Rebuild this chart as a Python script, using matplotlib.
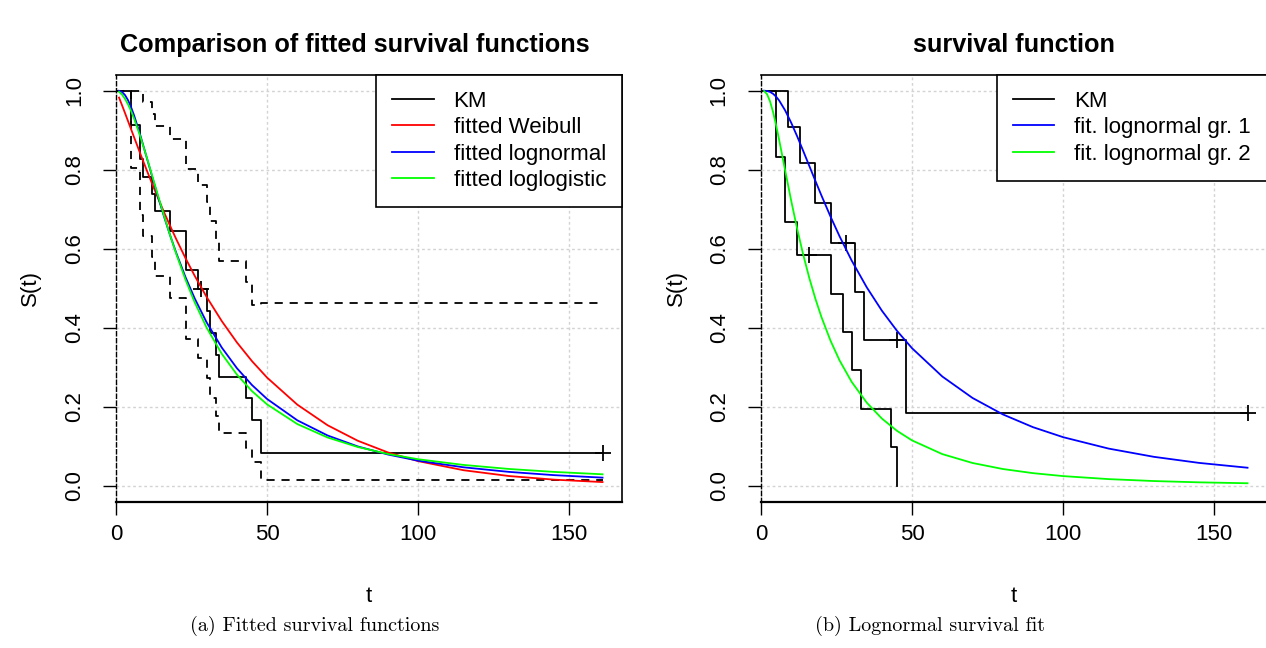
import numpy as np
import matplotlib
matplotlib.use("Agg")
import matplotlib.pyplot as plt

plt.rcParams['font.family'] = ['Liberation Sans', 'DejaVu Sans']

# ---- left panel: Kaplan-Meier (all patients) with log-type CI ----
km_time = [0, 5, 8, 9, 12, 13, 18, 23, 27, 30, 31, 33, 34, 43, 45, 48, 161]
km_surv = [1.0, 0.9130, 0.8261, 0.7826, 0.7391, 0.6957, 0.6460, 0.5466, 0.4969,
           0.4417, 0.3865, 0.3313, 0.2761, 0.2208, 0.1656, 0.0828, 0.0828]
km_lower = [1.0, 0.8049, 0.6848, 0.6309, 0.5798, 0.5309, 0.4753, 0.3721, 0.3240,
            0.2717, 0.2225, 0.1765, 0.1338, 0.0947, 0.0598, 0.0148, 0.0148]
km_upper = [1.0, 1.0, 0.9965, 0.9708, 0.9422, 0.9116, 0.8780, 0.8030, 0.7620,
            0.7181, 0.6713, 0.6217, 0.5695, 0.5148, 0.4584, 0.4622, 0.4622]
# censoring marks that show in the picture
km_cens_time = [28, 161]
km_cens_surv = [0.4969, 0.0828]

fit_time = [1, 2, 3, 4, 5, 6, 8, 10, 12, 14, 16, 18, 20, 23, 26, 30, 35, 40, 45,
            50, 60, 70, 80, 90, 100, 115, 130, 145, 161]
weibull_surv = [0.9826, 0.9631, 0.9430, 0.9226, 0.9022, 0.8818, 0.8414, 0.8020,
                0.7636, 0.7265, 0.6906, 0.6562, 0.6231, 0.5760, 0.5319, 0.4777,
                0.4167, 0.3628, 0.3153, 0.2736, 0.2052, 0.1531, 0.1138, 0.0842,
                0.0622, 0.0392, 0.0245, 0.0153, 0.0092]
lognormal_surv = [0.9998, 0.9968, 0.9888, 0.9757, 0.9581, 0.9371, 0.8884, 0.8353,
                  0.7815, 0.7290, 0.6789, 0.6318, 0.5879, 0.5279, 0.4748, 0.4134,
                  0.3497, 0.2976, 0.2548, 0.2195, 0.1655, 0.1272, 0.0994, 0.0789,
                  0.0633, 0.0466, 0.0350, 0.0267, 0.0204]
loglogistic_surv = [0.9972, 0.9901, 0.9792, 0.9652, 0.9483, 0.9291, 0.8850, 0.8358,
                    0.7841, 0.7319, 0.6808, 0.6317, 0.5854, 0.5215, 0.4649, 0.4000,
                    0.3339, 0.2814, 0.2394, 0.2058, 0.1561, 0.1221, 0.0980, 0.0803,
                    0.0670, 0.0526, 0.0424, 0.0349, 0.0289]

# ---- right panel: KM by group with lognormal fits ----
g1_time = [0, 9, 13, 18, 23, 31, 34, 48, 161]
g1_surv = [1.0, 0.9091, 0.8182, 0.7159, 0.6136, 0.4909, 0.3682, 0.1841, 0.1841]
g1_cens_time = [28, 45, 161]
g1_cens_surv = [0.6136, 0.3682, 0.1841]
g2_time = [0, 5, 8, 12, 23, 27, 30, 33, 43, 45]
g2_surv = [1.0, 0.8333, 0.6667, 0.5833, 0.4861, 0.3889, 0.2917, 0.1944, 0.0972, 0.0]
g2_cens_time = [16]
g2_cens_surv = [0.5833]

g1_fit_surv = [1.0000, 0.9993, 0.9969, 0.9921, 0.9849, 0.9753, 0.9500, 0.9188,
               0.8839, 0.8469, 0.8092, 0.7716, 0.7347, 0.6814, 0.6313, 0.5700,
               0.5021, 0.4431, 0.3920, 0.3479, 0.2764, 0.2221, 0.1806, 0.1482,
               0.1228, 0.0940, 0.0731, 0.0577, 0.0455]
g2_fit_surv = [0.9992, 0.9912, 0.9728, 0.9457, 0.9125, 0.8757, 0.7979, 0.7211,
               0.6493, 0.5840, 0.5254, 0.4733, 0.4270, 0.3672, 0.3171, 0.2628,
               0.2102, 0.1700, 0.1389, 0.1146, 0.0800, 0.0575, 0.0423, 0.0318,
               0.0243, 0.0167, 0.0118, 0.0085, 0.0062]

FS = 16
RED, BLUE, GREEN = '#FF0000', '#0000FF', '#00FF00'
LW = 1.3
DASH = (0, (4.5, 3.8))


def style_axes(ax):
    ax.set_xlim(0, 161 * 1.04)
    ax.set_ylim(-0.04, 1.04)
    ax.set_xticks([0, 50, 100, 150])
    ax.set_yticks([0.0, 0.2, 0.4, 0.6, 0.8, 1.0])
    ax.set_yticklabels(['0.0', '0.2', '0.4', '0.6', '0.8', '1.0'],
                       rotation=90, va='center')
    ax.tick_params(axis='both', direction='out', length=9.5, width=1.0,
                   labelsize=FS, colors='black')
    ax.tick_params(axis='x', pad=7)
    ax.tick_params(axis='y', pad=13)
    ax.grid(True, color='#D3D3D3', linestyle=(0, (2, 2)), linewidth=1.0)
    ax.set_axisbelow(True)
    for side in ['top', 'right']:
        ax.spines[side].set_linewidth(1.2)
    ax.spines['bottom'].set_linewidth(1.6)
    ax.spines['left'].set_linewidth(1.0)
    ax.spines['left'].set_linestyle((0, (3, 2)))


def add_legend(ax):
    leg = ax.legend(loc='upper right', bbox_to_anchor=(1.0, 1.0), borderaxespad=0,
                    fontsize=FS, frameon=True, fancybox=False, framealpha=1,
                    edgecolor='black', handlelength=1.85, handletextpad=0.9,
                    borderpad=0.72, labelspacing=0.24)
    leg.get_frame().set_linewidth(1.2)
    return leg


def plot_left(ax):
    style_axes(ax)
    ax.step(km_time, km_surv, where='post', color='black', lw=LW, label='KM')
    ax.step(km_time, km_lower, where='post', color='black', lw=LW, linestyle=DASH)
    ax.step(km_time, km_upper, where='post', color='black', lw=LW, linestyle=DASH)
    ax.plot(km_cens_time, km_cens_surv, linestyle='none', marker='+',
            markersize=11, mew=1.3, color='black')
    ax.plot(fit_time, weibull_surv, color=RED, lw=LW, label='fitted Weibull')
    ax.plot(fit_time, lognormal_surv, color=BLUE, lw=LW, label='fitted lognormal')
    ax.plot(fit_time, loglogistic_surv, color=GREEN, lw=LW, label='fitted loglogistic')
    add_legend(ax)


def plot_right(ax):
    style_axes(ax)
    ax.step(g1_time, g1_surv, where='post', color='black', lw=LW, label='KM')
    ax.step(g2_time, g2_surv, where='post', color='black', lw=LW)
    ax.plot(g1_cens_time, g1_cens_surv, linestyle='none', marker='+',
            markersize=11, mew=1.3, color='black')
    ax.plot(g2_cens_time, g2_cens_surv, linestyle='none', marker='+',
            markersize=11, mew=1.3, color='black')
    ax.plot(fit_time, g1_fit_surv, color=BLUE, lw=LW, label='fit. lognormal gr. 1')
    ax.plot(fit_time, g2_fit_surv, color=GREEN, lw=LW, label='fit. lognormal gr. 2')
    add_legend(ax)


def main():
    W, H = 1266, 648
    fig = plt.figure(figsize=(W / 100, H / 100), dpi=100)

    ax_l = fig.add_axes([116 / W, 1 - 501.5 / H, 506 / W, 426.6 / H])
    ax_r = fig.add_axes([761 / W, 1 - 501.5 / H, 506 / W, 426.6 / H])
    plot_left(ax_l)
    plot_right(ax_r)

    # titles, axis labels, captions
    fig.text(355 / W, 1 - 45 / H, 'Comparison of fitted survival functions',
             ha='center', va='center', fontsize=18.2, fontweight='bold')
    fig.text(1014 / W, 1 - 45 / H, 'survival function',
             ha='center', va='center', fontsize=18.2, fontweight='bold')
    for x in (30, 676):
        fig.text(x / W, 1 - 288 / H, 'S(t)', rotation=90, ha='center',
                 va='center', fontsize=FS)
    for x in (369, 1014):
        fig.text(x / W, 1 - 597 / H, 't', ha='center', va='center', fontsize=FS)
    fig.text(315 / W, 1 - 626 / H, '(a) Fitted survival functions',
             ha='center', va='center', fontsize=14.5, family='cmr10')
    fig.text(930 / W, 1 - 626 / H, '(b) Lognormal survival fit',
             ha='center', va='center', fontsize=14.5, family='cmr10')

    fig.savefig('out.png', dpi=100)
    plt.close(fig)


if __name__ == "__main__":
    main()
